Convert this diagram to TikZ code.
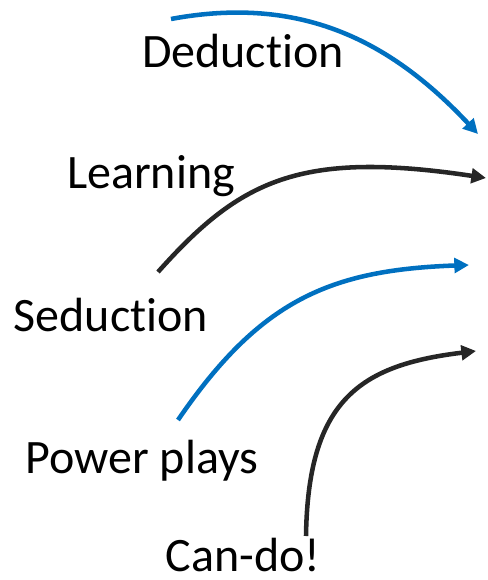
\documentclass[tikz,border=0pt]{standalone}
\usepackage{fontspec}
\setmainfont{Carlito}[Ligatures=NoCommon]
\usetikzlibrary{arrows.meta}
\definecolor{arcblue}{RGB}{0,112,192}
\definecolor{arcblack}{RGB}{38,38,38}
\begin{document}
\begin{tikzpicture}[x=0.75pt,y=-0.75pt,
    arc/.style={line width=3.4pt,-{Triangle[length=11pt,width=11pt]}},
    word/.style={anchor=base,font=\fontsize{36}{40}\selectfont,inner sep=0pt}]
      \useasboundingbox (0,0) rectangle (487,580);
      \node[word](ded) at (243,68){Deduction};
      \node[word](lrn) at (151,189){Learning};
      \node[word](sed) at (111,331){Seduction};
      \node[word](pow) at (142,473){Power plays};
      \node[word](can) at (243,571){Can-do!};
      \coordinate (a1) at (171,19);
      \coordinate (b1) at (478,134);
      \coordinate (a2) at (158,272);
      \coordinate (b2) at (486,178);
      \coordinate (a3) at (178,420);
      \coordinate (b3) at (469,265);
      \coordinate (a4) at (306,536);
      \coordinate (b4) at (476,351);
      \draw[arc,arcblue] (a1) .. controls (300,-5) and (390,40) .. (b1);
      \draw[arc,arcblack] (a2) .. controls (240,180) and (300,150) .. (b2);
      \draw[arc,arcblue] (a3) .. controls (260,300) and (330,270) .. (b3);
      \draw[arc,arcblack] (a4) .. controls (308,400) and (360,365) .. (b4);
    \end{tikzpicture}
\end{document}
